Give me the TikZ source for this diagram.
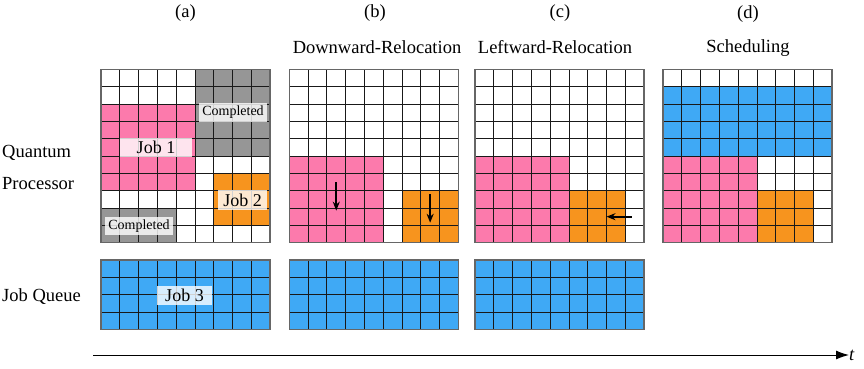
\documentclass[tikz,border=0pt]{standalone}
\usepackage{fontspec}
\setmainfont{Liberation Serif}
\usetikzlibrary{arrows.meta}
\definecolor{qpink}{RGB}{252,122,172}
\definecolor{qorange}{RGB}{247,148,30}
\definecolor{qblue}{RGB}{63,169,245}
\definecolor{qgray}{RGB}{150,150,150}
\tikzset{
 gridline/.style={draw=black!90, line width=0.8pt},
 border/.style={draw=black!60, line width=1.1pt},
 lbl/.style={font=\fontsize{18.5}{20}\selectfont, inner sep=0pt},
 tag/.style={fill=white, fill opacity=0.8, text opacity=1, inner sep=0pt, font=\fontsize{18}{20}\selectfont},
 smalltag/.style={tag, font=\fontsize{14}{16}\selectfont},
 mover/.style={-{Stealth[length=9pt,width=7pt]}, line width=2.2pt},
 panel/.style={x=18.78pt, y=-17.34pt},
}
\newcommand\cellgrid[2]{%
  \foreach \i in {1,...,#1} {\draw[gridline] (\i,0) -- (\i,#2);}
  \foreach \j in {1,...,#2} {\draw[gridline] (0,\j) -- (#1,\j);}
  \draw[border] (0,0) rectangle (#1,#2);
}
\begin{document}
\begin{tikzpicture}[x=1pt,y=-1pt]
\useasboundingbox (0,0) rectangle (864,369);
% ---------- panel (a)
\begin{scope}[shift={(101,69.3)}, panel]
\fill[qgray] (5,0) rectangle (9,5);
\fill[qpink] (0,2) rectangle (5,7);
\fill[qorange] (6,6) rectangle (9,9);
\fill[qgray] (0,8) rectangle (4,10);
\cellgrid{9}{10}
\end{scope}
\begin{scope}[shift={(101,260)}, panel]
\fill[qblue] (0,0) rectangle (9,4);
\cellgrid{9}{4}
\end{scope}
\node[tag, minimum width=72pt, minimum height=19pt] (job1) at (156,147.5) {Job 1};
\node[smalltag, minimum width=68pt, minimum height=19pt] (comp1) at (233,112.5) {Completed};
\node[smalltag, minimum width=68pt, minimum height=18pt] (comp2) at (139,226) {Completed};
\node[tag, minimum width=49pt, minimum height=20pt] (job2) at (242.5,200) {Job 2};
\node[tag, minimum width=55pt, minimum height=19pt] (job3) at (184.5,295.5) {Job 3};
% ---------- panel (b)
\begin{scope}[shift={(289.3,69.3)}, panel]
\fill[qpink] (0,5) rectangle (5,10);
\fill[qorange] (6,7) rectangle (9,10);
\cellgrid{9}{10}
\coordinate (b1s) at (2.5,6.5);
\coordinate (b1e) at (2.5,8.15);
\coordinate (b2s) at (7.5,7.2);
\coordinate (b2e) at (7.5,8.85);
\end{scope}
\draw[mover] (b1s) -- (b1e);
\draw[mover] (b2s) -- (b2e);
\begin{scope}[shift={(289.3,260)}, panel]
\fill[qblue] (0,0) rectangle (9,4);
\cellgrid{9}{4}
\end{scope}
% ---------- panel (c)
\begin{scope}[shift={(475,69.3)}, panel]
\fill[qpink] (0,5) rectangle (5,10);
\fill[qorange] (5,7) rectangle (8,10);
\cellgrid{9}{10}
\coordinate (c1s) at (8.35,8.5);
\coordinate (c1e) at (7,8.5);
\end{scope}
\draw[mover] (c1s) -- (c1e);
\begin{scope}[shift={(475,260)}, panel]
\fill[qblue] (0,0) rectangle (9,4);
\cellgrid{9}{4}
\end{scope}
% ---------- panel (d)
\begin{scope}[shift={(663,69.3)}, panel]
\fill[qblue] (0,1) rectangle (9,5);
\fill[qpink] (0,5) rectangle (5,10);
\fill[qorange] (5,7) rectangle (8,10);
\cellgrid{9}{10}
\end{scope}
% ---------- headings
\node[lbl] (ha) at (185.5,13) {(a)};
\node[lbl] (hb) at (375,13) {(b)};
\node[lbl] (hc) at (560,13) {(c)};
\node[lbl] (hd) at (748,14) {(d)};
\node[lbl] (sb) at (377,47) {Downward-Relocation};
\node[lbl] (sc) at (555,47) {Leftward-Relocation};
\node[lbl] (sd) at (748,48) {Scheduling};
% ---------- row labels
\node[lbl, anchor=west] (lq) at (2,153) {Quantum};
\node[lbl, anchor=west] (lp) at (2,184) {Processor};
\node[lbl, anchor=west] (lj) at (2,297) {Job Queue};
% ---------- time axis
\coordinate (t0) at (93,355);
\node[lbl, anchor=west, font=\fontsize{18.5}{20}\selectfont\itshape] (tl) at (849,355) {t};
\draw[-{Latex[length=13pt,width=9pt]}, line width=1pt] (t0) -- (tl.west);
\end{tikzpicture}
\end{document}
